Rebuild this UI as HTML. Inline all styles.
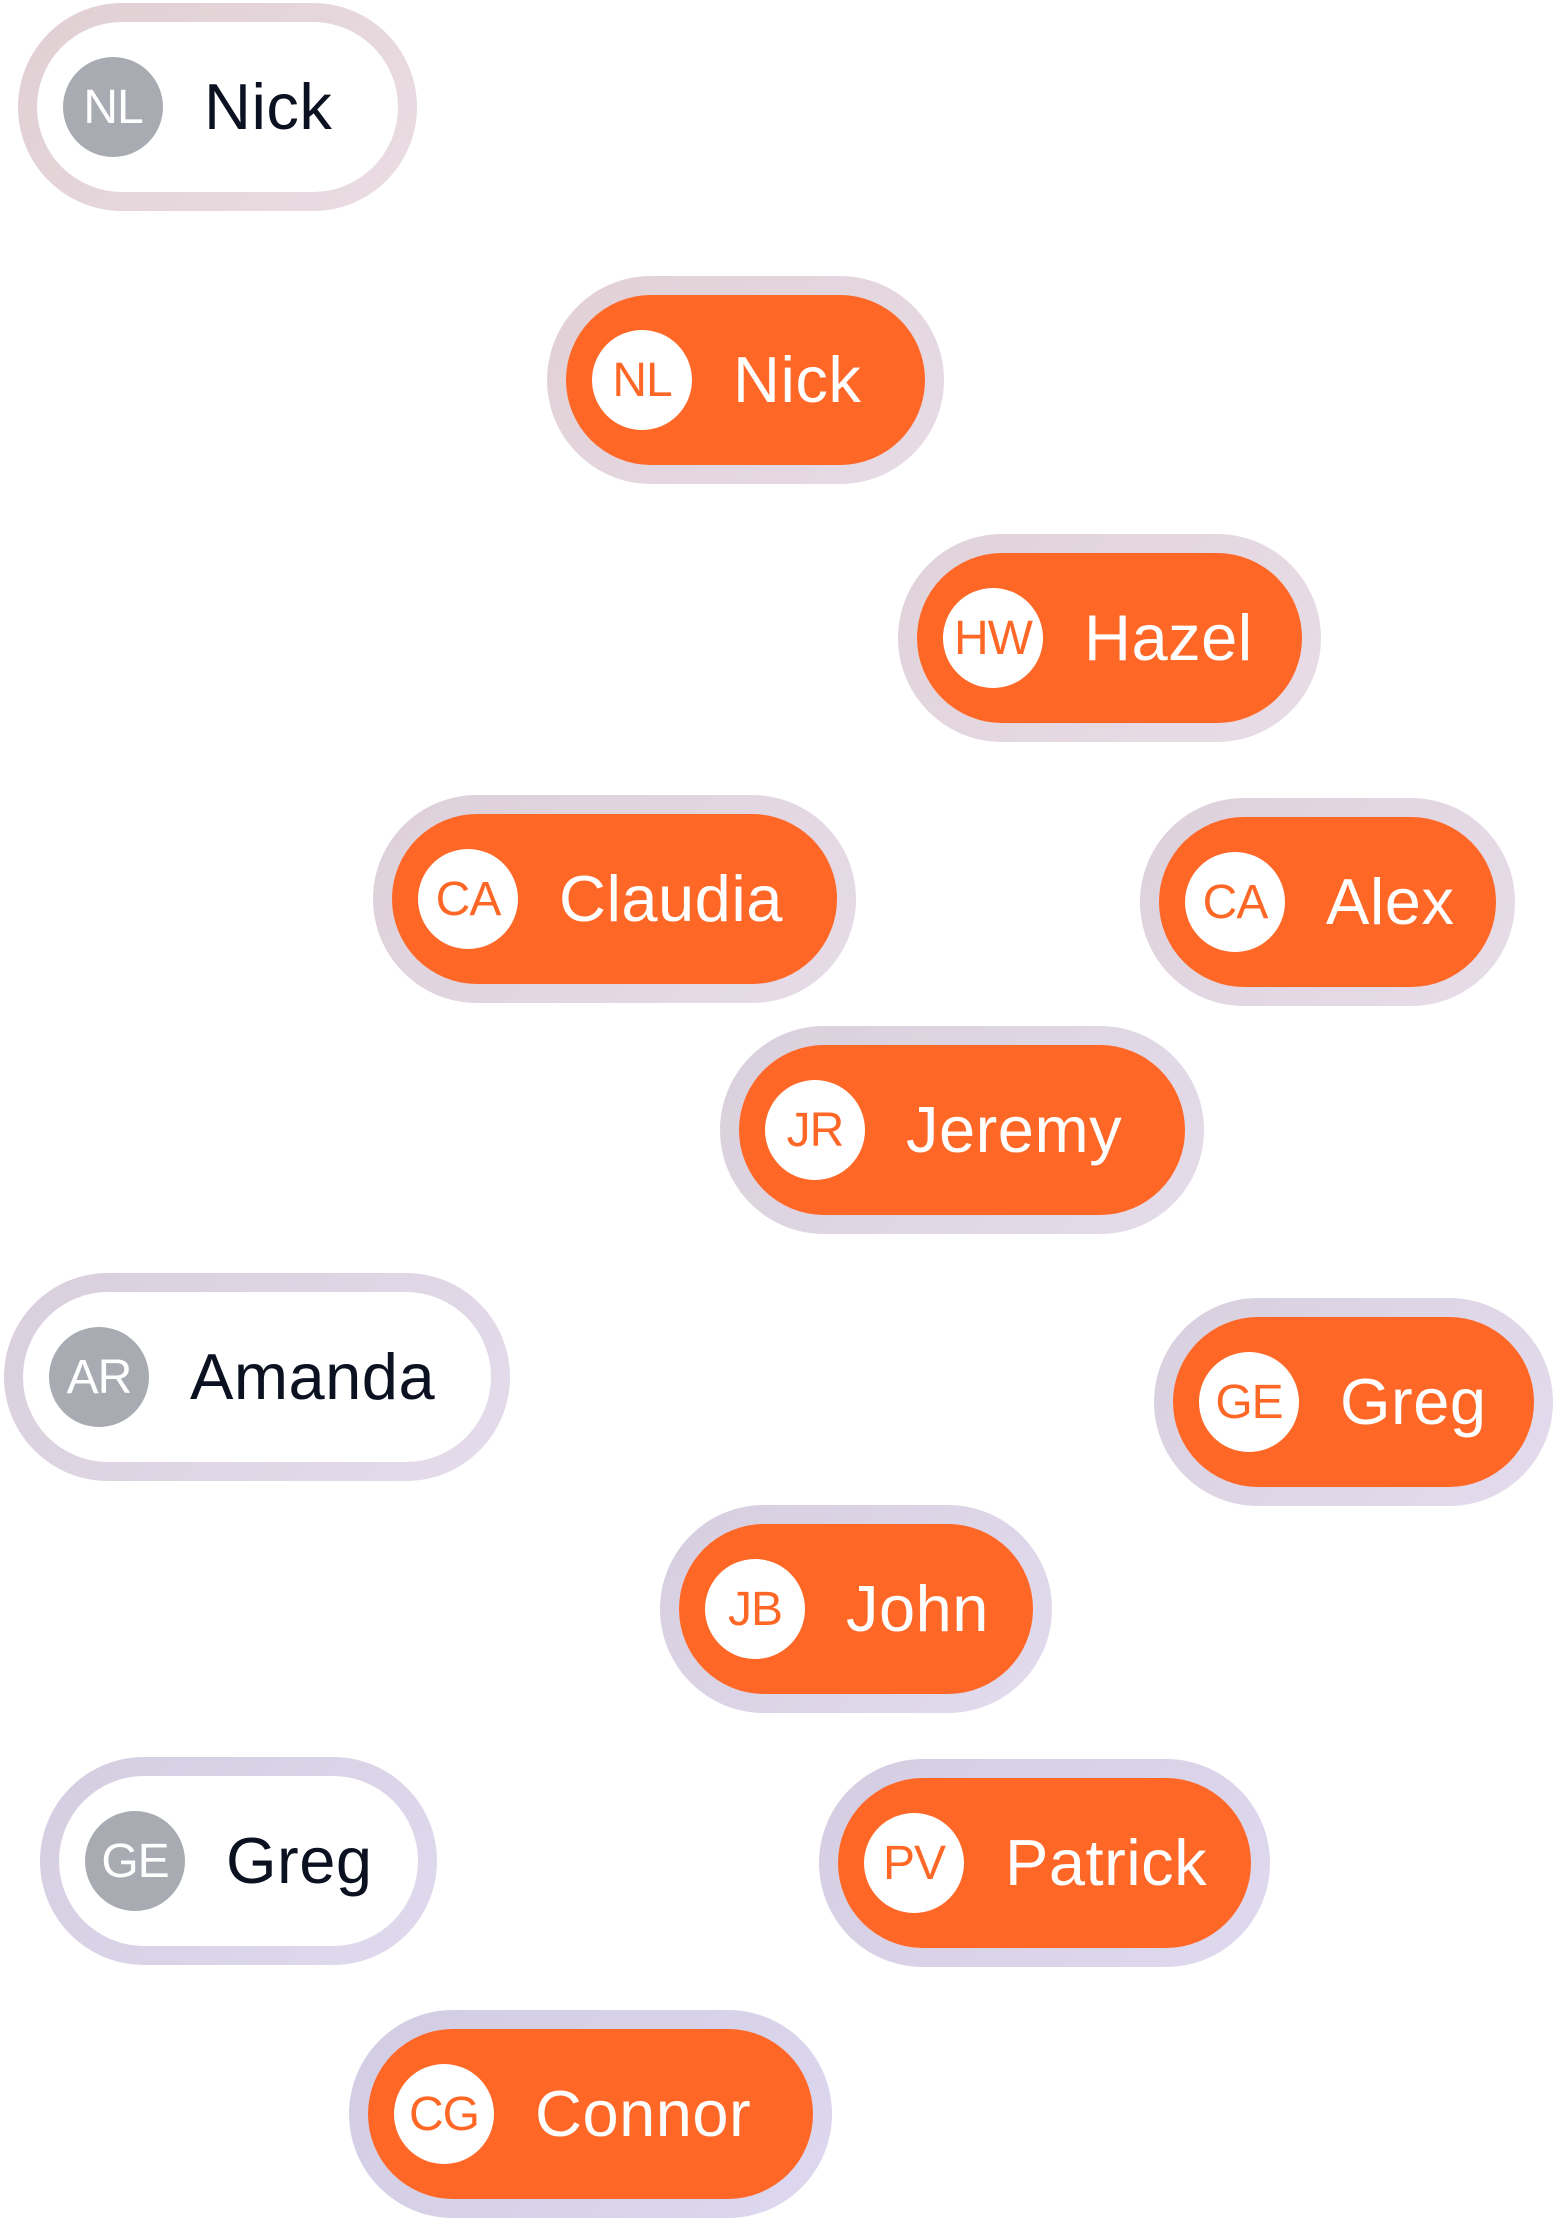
<!DOCTYPE html>
<html><head><meta charset="utf-8"><style>
html,body{margin:0;padding:0;background:#fff;width:1562px;height:2219px;overflow:hidden;position:relative;font-family:"Liberation Sans",sans-serif}
.r{position:absolute;border-radius:104px;padding:19px;box-sizing:border-box;height:208px}
.p{position:relative;height:170px;border-radius:85px;width:100%}
.o{background:#ff6726}
.w{background:#fff}
.a{position:absolute;left:26px;top:35px;width:100px;height:100px;border-radius:50%;display:flex;align-items:center;justify-content:center;font-size:48px;font-weight:300;letter-spacing:-1px}
.o .a{background:#fff;color:#ff6726}
.w .a{background:#a9abb3;color:#fff}
.t{position:absolute;left:167px;top:0;line-height:170px;font-size:65px;letter-spacing:0.5px;white-space:nowrap}
.o .t{color:#fff}
.w .t{color:#0b1120}
</style></head><body>
<div class="r" style="left:18px;top:3px;width:399px;background:linear-gradient(135deg,#e0cfd3,#eadde3)"><div class="p w"><div class="a">NL</div><div class="t">Nick</div></div></div>
<div class="r" style="left:547px;top:276px;width:397px;background:linear-gradient(135deg,#e2d1d6,#e6dbe6)"><div class="p o"><div class="a">NL</div><div class="t">Nick</div></div></div>
<div class="r" style="left:898px;top:534px;width:423px;background:linear-gradient(135deg,#e0d2d9,#e8dde8)"><div class="p o"><div class="a">HW</div><div class="t">Hazel</div></div></div>
<div class="r" style="left:373px;top:795px;width:483px;background:linear-gradient(135deg,#ddd0d9,#e6dce8)"><div class="p o"><div class="a">CA</div><div class="t">Claudia</div></div></div>
<div class="r" style="left:1140px;top:798px;width:375px;background:linear-gradient(135deg,#ddd1db,#e7dde9)"><div class="p o"><div class="a">CA</div><div class="t">Alex</div></div></div>
<div class="r" style="left:720px;top:1026px;width:484px;background:linear-gradient(135deg,#dad0dc,#e5dcea)"><div class="p o"><div class="a">JR</div><div class="t">Jeremy</div></div></div>
<div class="r" style="left:4px;top:1273px;width:506px;background:linear-gradient(135deg,#d9cfdc,#e5dcec)"><div class="p w"><div class="a">AR</div><div class="t">Amanda</div></div></div>
<div class="r" style="left:1154px;top:1298px;width:399px;background:linear-gradient(135deg,#d9d0de,#e4dcee)"><div class="p o"><div class="a">GE</div><div class="t">Greg</div></div></div>
<div class="r" style="left:660px;top:1505px;width:392px;background:linear-gradient(135deg,#d7cfdf,#e2dbee)"><div class="p o"><div class="a">JB</div><div class="t">John</div></div></div>
<div class="r" style="left:40px;top:1757px;width:397px;background:linear-gradient(135deg,#d5cde0,#e0daef)"><div class="p w"><div class="a">GE</div><div class="t">Greg</div></div></div>
<div class="r" style="left:819px;top:1759px;width:451px;background:linear-gradient(135deg,#d5cde1,#dfd9ef)"><div class="p o"><div class="a">PV</div><div class="t">Patrick</div></div></div>
<div class="r" style="left:349px;top:2010px;width:483px;background:linear-gradient(135deg,#d3cde3,#ddd7ef)"><div class="p o"><div class="a">CG</div><div class="t">Connor</div></div></div>
</body></html>
